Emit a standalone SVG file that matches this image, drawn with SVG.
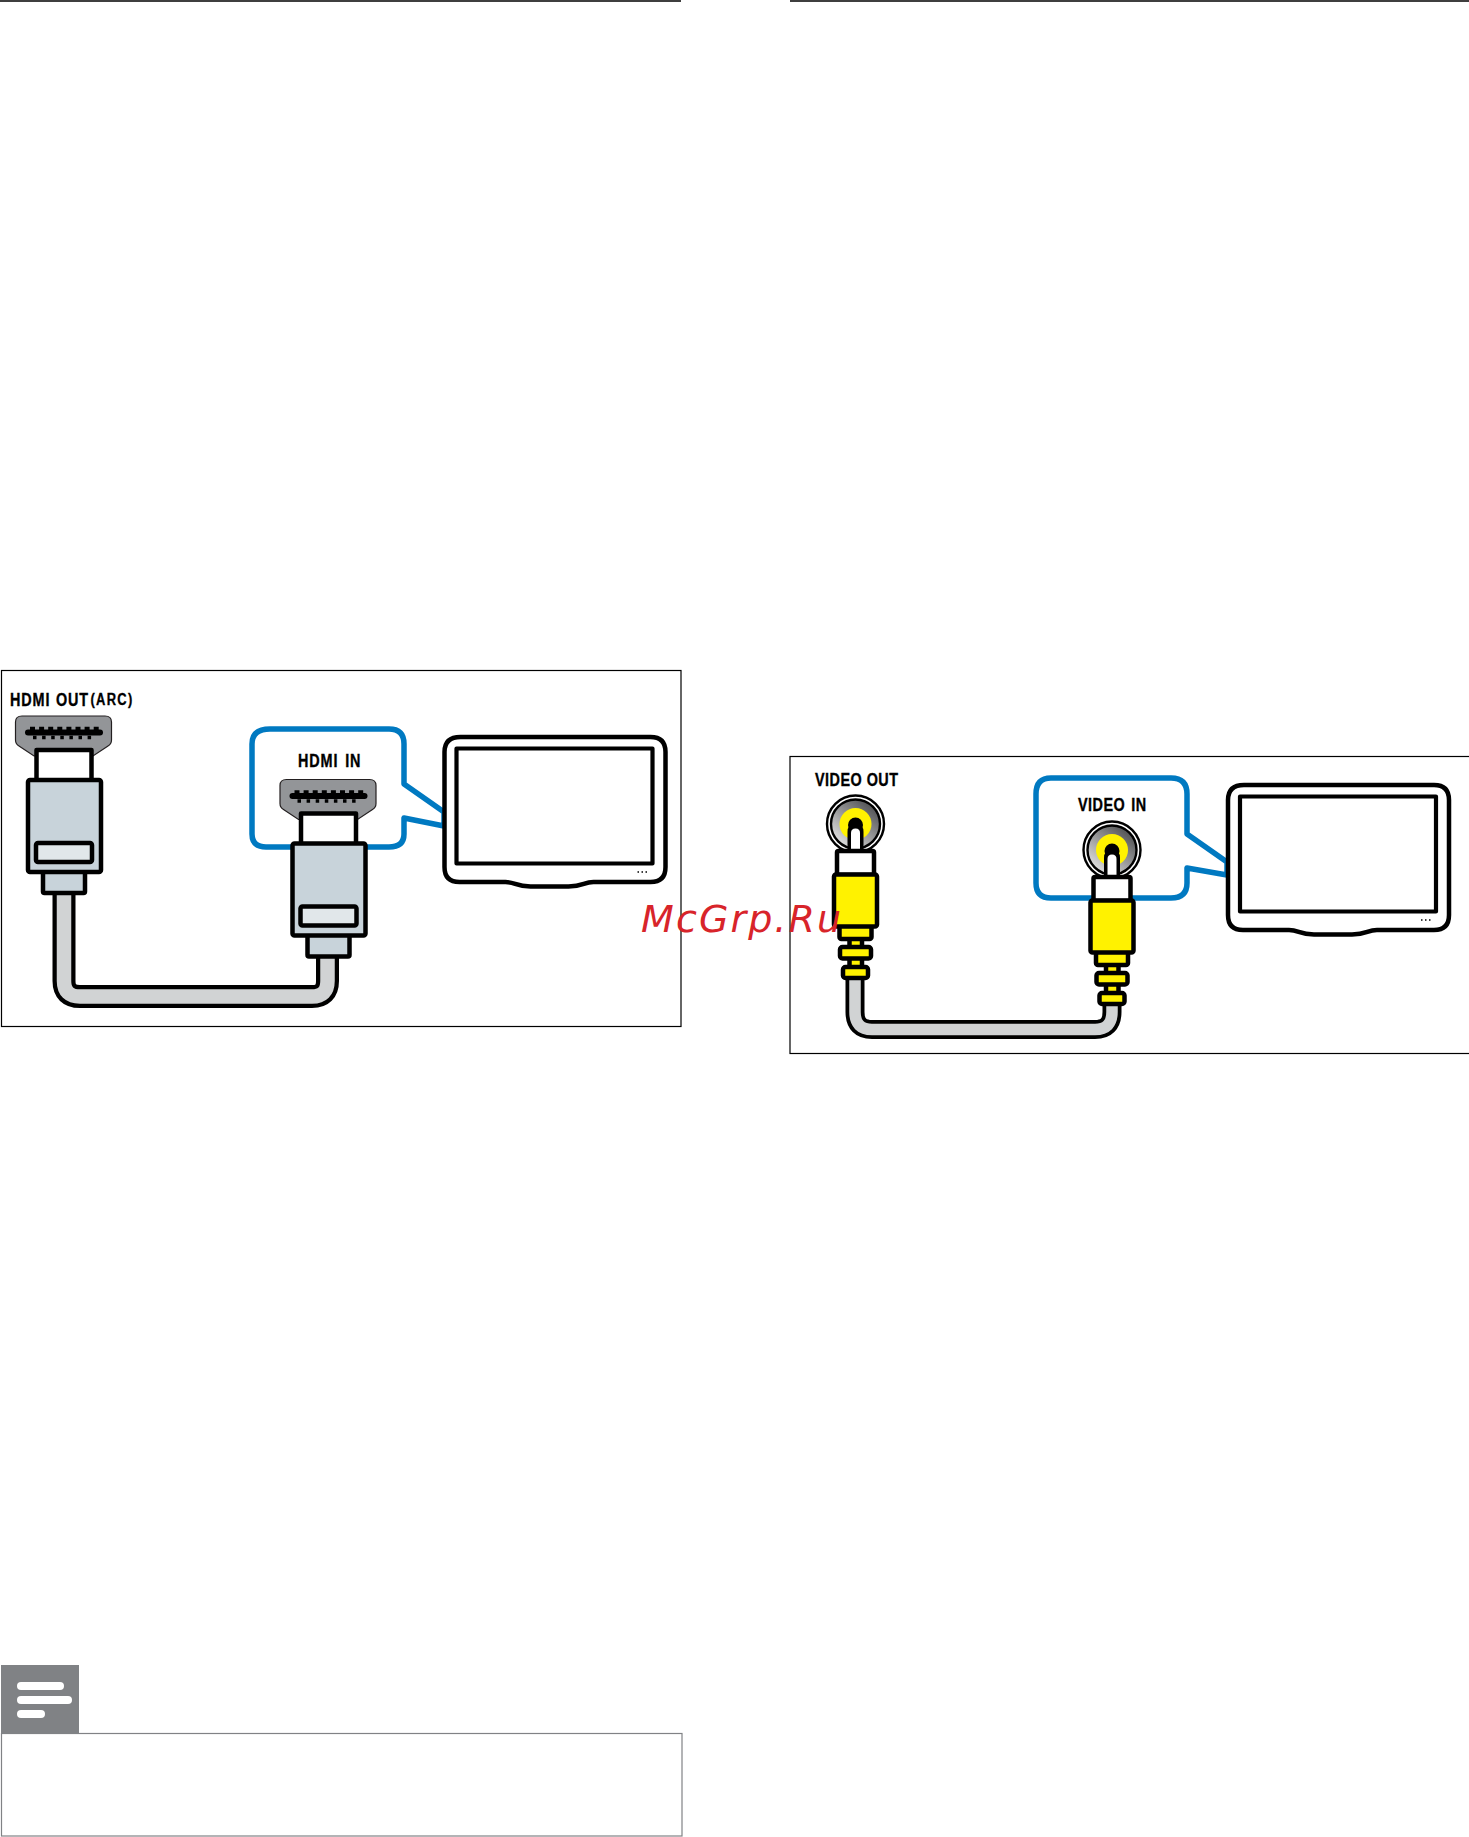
<svg xmlns="http://www.w3.org/2000/svg" xmlns:xlink="http://www.w3.org/1999/xlink" width="1469" height="1837" viewBox="0 0 1469 1837">
<style>
.lbl{font-family:"Liberation Sans",Arial,sans-serif;font-weight:700;fill:#000;stroke:#000;stroke-width:.35;font-size:18px;letter-spacing:1.1px}
.k{stroke:#000;stroke-width:4.5;stroke-linejoin:round;stroke-linecap:round}
.frame{fill:none;stroke:#000;stroke-width:1.2}
.callout{fill:#fff;stroke:#0079c1;stroke-width:5.5;stroke-linejoin:round}
.cableK{fill:none;stroke:#000;stroke-width:23}
.cableG{fill:none;stroke:#d1d3d4;stroke-width:14.5}
.wm{font-family:"DejaVu Sans",sans-serif;font-style:oblique;font-size:38px;letter-spacing:2.1px;fill:#d8242a}
</style>
<defs>
<linearGradient id="jackGrad" x1="0.85" y1="0.1" x2="0.2" y2="0.9"><stop offset="0" stop-color="#4f5052"/><stop offset="1" stop-color="#dcdcdc"/></linearGradient>
<g id="hdmiPlug">
<path d="M22,716H105Q111.500,716 111.500,722V740Q111.500,744 108,746L93,756H34L19,746Q15.500,744 15.500,740V722Q15.500,716 22,716Z" fill="#939598" stroke="#231f20" stroke-width="1.200"/>
<path d="M28,732.500H100" stroke="#000" stroke-width="6" stroke-linecap="round" fill="none"/>
<path d="M30,729H99" stroke="#000" stroke-width="4.500" stroke-dasharray="5 4.100" fill="none"/>
<path d="M33,737.500H96" stroke="#000" stroke-width="3.500" stroke-dasharray="3.500 5.600" fill="none"/>
<rect x="36.500" y="750" width="55" height="32" fill="#fff" class="k"/>
<rect x="43" y="870" width="42" height="23" rx="1.500" fill="#c8d3da" class="k"/>
<rect x="28" y="780" width="73" height="92" rx="2" fill="#c8d3da" class="k"/>
<rect x="36" y="843" width="56" height="19" rx="2" fill="#e1e7ea" class="k"/>
</g>
<g id="rcaPlug">
<circle cx="855.500" cy="824" r="28.500" fill="#fff" stroke="#000" stroke-width="2.400"/>
<circle cx="855.500" cy="824" r="24.500" fill="url(#jackGrad)" stroke="#000" stroke-width="2.400"/>
<circle cx="855.500" cy="824" r="16" fill="#fff200"/>
<circle cx="855.500" cy="825" r="7.500" fill="#000"/>
<path d="M847.500,853V832Q847.500,824 855.500,824Q863.500,824 863.500,832V853Z" fill="#000"/>
<path d="M851,853V833Q851,828.500 855.500,828.500Q860,828.500 860,833V853Z" fill="#fff"/>
<rect x="837" y="851" width="37" height="24" rx="1.500" fill="#fff" class="k"/>
<rect x="849.500" y="938" width="12.500" height="30" fill="#fff200" class="k"/>
<rect x="839.500" y="925" width="32" height="14" rx="2" fill="#fff200" class="k"/>
<rect x="840" y="947" width="31" height="11.500" rx="2.500" fill="#fff200" class="k"/>
<rect x="843" y="967" width="25" height="11" rx="2.500" fill="#fff200" class="k"/>
<rect x="834" y="874.500" width="43" height="52" rx="2" fill="#fff200" class="k"/>
</g>
<g id="tv">
<path d="M460,738H650Q665,738 665,753V868Q665,883 650,883H593C583,883 583,887.500 568,887.500H530C515,887.500 515,883 505,883H459Q444,883 444,868V753Q444,738 460,738Z" fill="#fff" stroke="#000" stroke-width="4.500" stroke-linejoin="round"/>
<rect x="456" y="749.500" width="196" height="115" fill="#fff" stroke="#000" stroke-width="4.200" stroke-linejoin="round"/>
<path d="M637,873h1.500M641,873h1.500M645,873h1.500" stroke="#000" stroke-width="1.500" fill="none"/>
</g>
</defs>
<rect width="1469" height="1837" fill="#fff"/>

<g id="page-rules">
<path d="M0,1H681M790,1H1469" stroke="#000" stroke-width="1.500" fill="none"/>
</g>

<g id="panel-hdmi">
<rect class="frame" x="1.500" y="670.500" width="679.500" height="356"/>
</g>
<g id="panel-video">
<rect class="frame" x="790" y="756.500" width="680" height="297"/>
</g>

<g id="callout-hdmi">
<path class="callout" d="M270,729H389Q404,729 404,744V784L444,812V826L404,818V834Q404,847 389,847H266Q252,847 252,834V744Q252,729 270,729Z"/>
</g>
<g id="callout-video">
<path class="callout" d="M1051,778H1171Q1187,778 1187,794V834L1227,862V875L1187,868V883Q1187,898 1171,898H1051Q1036,898 1036,883V794Q1036,778 1051,778Z"/>
</g>

<g id="connectors">
<path class="cableK" d="M64,890V981Q64,996.500 80,996.500H312Q327.500,996.500 327.500,981V955"/>
<path class="cableG" d="M64,890V981Q64,996.500 80,996.500H312Q327.500,996.500 327.500,981V955"/>
<path class="cableK" style="stroke-width:19" d="M855,975V1012Q855,1029.500 872,1029.500H1095Q1112,1029.500 1112,1012V1000"/>
<path class="cableG" style="stroke-width:11.500" d="M855,975V1012Q855,1029.500 872,1029.500H1095Q1112,1029.500 1112,1012V1000"/>
</g>

<g id="tv-hdmi"><use xlink:href="#tv" href="#tv" transform="translate(0.500,-1)"/></g>
<g id="tv-video"><use xlink:href="#tv" href="#tv" transform="translate(784,47)"/></g>

<g id="plug-hdmi-out"><use xlink:href="#hdmiPlug" href="#hdmiPlug"/>
<text class="lbl" transform="translate(10,705.500) scale(.8,1)" word-spacing="1">HDMI OUT</text>
<text class="lbl" transform="translate(90.500,704.500) scale(.76,1)" style="letter-spacing:1.700px;font-size:17px">(ARC)</text>
</g>
<g id="plug-hdmi-in"><use xlink:href="#hdmiPlug" href="#hdmiPlug" transform="translate(264.500,63.500)"/>
<text class="lbl" transform="translate(298,767) scale(.8,1)" word-spacing="2.500">HDMI IN</text>
</g>
<g id="plug-video-out"><use xlink:href="#rcaPlug" href="#rcaPlug"/>
<text class="lbl" transform="translate(815,786) scale(.8,1)" style="letter-spacing:.6px" word-spacing="0">VIDEO OUT</text>
</g>
<g id="plug-video-in"><use xlink:href="#rcaPlug" href="#rcaPlug" transform="translate(256.500,26)"/>
<text class="lbl" transform="translate(1078,811) scale(.8,1)" style="letter-spacing:.6px" word-spacing="2">VIDEO IN</text>
</g>

<g id="note">
<rect x="1.500" y="1733.500" width="680.500" height="102.500" fill="#fff" stroke="#808285" stroke-width="1.200"/>
<rect x="1" y="1665" width="78" height="68" fill="#808285"/>
<rect x="17" y="1682" width="47" height="8" rx="4" fill="#fff"/>
<rect x="17" y="1696" width="55" height="8" rx="4" fill="#fff"/>
<rect x="17" y="1710" width="28" height="8" rx="4" fill="#fff"/>
</g>

<text class="wm" x="641" y="932">McGrp.Ru</text>
</svg>
